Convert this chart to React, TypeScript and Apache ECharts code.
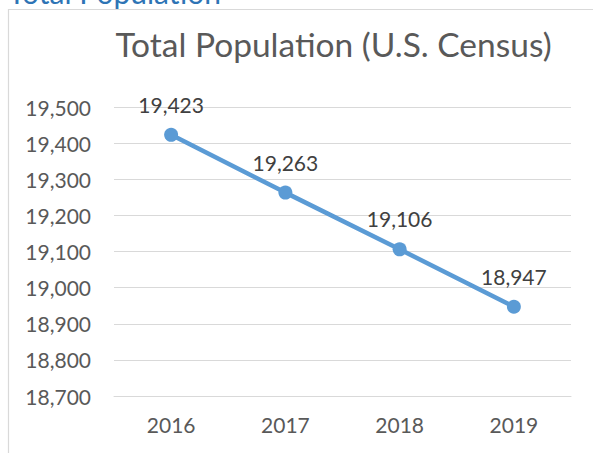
import React, { useEffect, useRef } from "react";
import * as echarts from "echarts";

const years = ["2016", "2017", "2018", "2019"];
const population = [19423, 19263, 19106, 18947];
const chartTitle = "Total Population (U.S. Census)";
const headingText = "Total Population";

const FONT = "Lato";

export default function App() {
  const ref = useRef<HTMLDivElement>(null);
  useEffect(() => {
    if (!ref.current) return;
    const chart = echarts.init(ref.current, null, { renderer: "svg" });
    const fmt = (v: number) => v.toLocaleString("en-US");
    chart.setOption({
      animation: false,
      backgroundColor: "#ffffff",
      textStyle: { fontFamily: FONT },
      grid: { left: 114, right: 22, top: 107, bottom: 57 },
      graphic: [
        {
          type: "rect",
          shape: { x: 8.5, y: 9.5, width: 700, height: 600 },
          style: { fill: "none", stroke: "#d9d9d9", lineWidth: 1.2 },
          silent: true,
        },
        {
          type: "text",
          x: 8,
          y: -8,
          style: {
            text: headingText,
            fontFamily: FONT,
            fontSize: 30,
            fill: "#2e74b5",
            align: "left",
            verticalAlign: "middle",
          },
        },
        {
          type: "text",
          x: 333.5,
          y: 44,
          style: {
            text: chartTitle,
            fontFamily: FONT,
            fontSize: 33.5,
            fill: "#595959",
            align: "center",
            verticalAlign: "middle",
          },
        },
      ],
      xAxis: {
        type: "category",
        data: years,
        boundaryGap: true,
        axisLine: { show: true, lineStyle: { color: "#d9d9d9", width: 1 } },
        axisTick: { show: false },
        axisLabel: { color: "#595959", fontFamily: FONT, fontSize: 21, margin: 18 },
      },
      yAxis: {
        type: "value",
        min: 18700,
        max: 19500,
        interval: 100,
        axisLine: { show: false },
        axisTick: { show: false },
        splitLine: { lineStyle: { color: "#d9d9d9", width: 1 } },
        axisLabel: {
          color: "#595959",
          fontFamily: FONT,
          fontSize: 21,
          margin: 23,
          formatter: (v: number) => fmt(v),
        },
      },
      series: [
        {
          type: "line",
          data: population,
          symbol: "circle",
          symbolSize: 14,
          lineStyle: { color: "#5b9bd5", width: 4.5 },
          itemStyle: { color: "#5b9bd5" },
          label: {
            show: true,
            position: "top",
            distance: 13,
            color: "#404040",
            fontFamily: FONT,
            fontSize: 21,
            formatter: (p: any) => fmt(p.value),
          },
        },
      ],
    });
    return () => chart.dispose();
  }, []);
  return (
    <div
      ref={ref}
      style={{ position: "fixed", left: 0, top: 0, width: 593, height: 453 }}
    />
  );
}
